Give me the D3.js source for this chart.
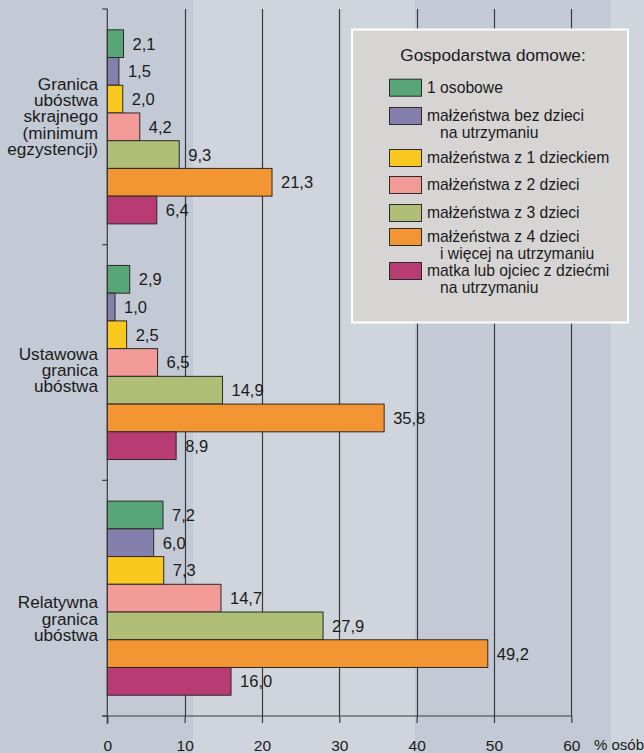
<!DOCTYPE html>
<html>
<head>
<meta charset="utf-8">
<script src="https://cdn.jsdelivr.net/npm/d3@7"></script>
<style>
  body { margin: 0; background: #d0d5dd; }
  svg text { font-family: "Liberation Sans", Arial, sans-serif; fill: #1a1a1a; }
</style>
</head>
<body>
<div id="chart"></div>
<script>
// data
var categories = [
  ["Granica", "ubóstwa", "skrajnego", "(minimum", "egzystencji)"],
  ["Ustawowa", "granica", "ubóstwa"],
  ["Relatywna", "granica", "ubóstwa"]
];
var seriesNames = [
  ["1 osobowe"],
  ["małżeństwa bez dzieci", "na utrzymaniu"],
  ["małżeństwa z 1 dzieckiem"],
  ["małżeństwa z 2 dzieci"],
  ["małżeństwa z 3 dzieci"],
  ["małżeństwa z 4 dzieci", "i więcej na utrzymaniu"],
  ["matka lub ojciec z dziećmi", "na utrzymaniu"]
];
var seriesColors = ["#58a677", "#8580ab", "#f9c81e", "#f29b96", "#afbd77", "#f39532", "#b83b74"];
var values = [
  [2.1, 1.5, 2.0, 4.2, 9.3, 21.3, 6.4],
  [2.9, 1.0, 2.5, 6.5, 14.9, 35.8, 8.9],
  [7.2, 6.0, 7.3, 14.7, 27.9, 49.2, 16.0]
];
var xTicks = [0, 10, 20, 30, 40, 50, 60];
var legendTitle = "Gospodarstwa domowe:";
var unitLabel = "% osób";

// layout
var W = 644, H = 753;
var x0 = 107.3, x60 = 571.3, yTop = 9, yBottom = 716;
var labelShift = [-10, 8, 21];
var legendRowY = [0, 28.3, 70.3, 97.3, 125.3, 149.3, 183.3];

var svg = d3.select("#chart").append("svg")
    .attr("width", W)
    .attr("height", H);

// background bands
[[0, 193, "#c3cad5"], [193, 415, "#d0d5dd"], [415, 611, "#c3cad5"], [611, W, "#d0d5dd"]]
  .forEach(function(b) {
    svg.append("rect").attr("x", b[0]).attr("y", 0)
      .attr("width", b[1] - b[0]).attr("height", H).attr("fill", b[2]);
  });

var x = d3.scaleLinear().domain([0, 60]).range([x0, x60]);
var y = d3.scaleBand().domain(d3.range(categories.length)).range([yTop, yBottom]);
var yInner = d3.scaleBand().domain(d3.range(seriesNames.length))
    .range([0, y.bandwidth()]).paddingInner(0).paddingOuter(0.75);

// grid lines
svg.append("g").selectAll("line")
  .data(xTicks.slice(1))
  .enter().append("line")
    .attr("x1", function(d) { return Math.round(x(d)) + 0.5; })
    .attr("x2", function(d) { return Math.round(x(d)) + 0.5; })
    .attr("y1", yTop).attr("y2", yBottom)
    .attr("stroke", "#3a3a3a").attr("stroke-width", 1.2);

// bars
var groups = svg.append("g").selectAll("g")
  .data(values)
  .enter().append("g")
    .attr("transform", function(d, i) { return "translate(0," + y(i) + ")"; });

groups.selectAll("rect")
  .data(function(d) { return d; })
  .enter().append("rect")
    .attr("x", x(0))
    .attr("y", function(d, j) { return yInner(j); })
    .attr("width", function(d) { return x(d) - x(0); })
    .attr("height", yInner.bandwidth())
    .attr("fill", function(d, j) { return seriesColors[j]; })
    .attr("stroke", "#2a2a2a").attr("stroke-width", 1);

groups.selectAll("text")
  .data(function(d) { return d; })
  .enter().append("text")
    .attr("x", function(d) { return x(d) + 9; })
    .attr("y", function(d, j) { return yInner(j) + yInner.bandwidth() / 2 + 6; })
    .style("font-size", "16.5px")
    .text(function(d) { return d.toFixed(1).replace(".", ","); });

// y axis
var yAxis = svg.append("g");
yAxis.append("line")
  .attr("x1", x0).attr("x2", x0).attr("y1", yTop).attr("y2", yBottom + 8)
  .attr("stroke", "#3a3a3a").attr("stroke-width", 1.2);
yAxis.selectAll("line.tick")
  .data(d3.range(categories.length + 1))
  .enter().append("line").attr("class", "tick")
    .attr("x1", x0 - 5).attr("x2", x0)
    .attr("y1", function(i) { return i < categories.length ? y(i) : yBottom; })
    .attr("y2", function(i) { return i < categories.length ? y(i) : yBottom; })
    .attr("stroke", "#3a3a3a").attr("stroke-width", 1.2);

// category labels
categories.forEach(function(lines, i) {
  var c = y(i) + y.bandwidth() / 2;
  var first = c - (lines.length - 1) * 16.4 / 2 + 5.5 + labelShift[i];
  var t = svg.append("text")
    .attr("text-anchor", "end")
    .style("font-size", "17.2px");
  lines.forEach(function(l, k) {
    t.append("tspan").attr("x", 98).attr("y", first + k * 16.4).text(l);
  });
});

// x axis
var xAxis = svg.append("g")
    .attr("transform", "translate(0," + yBottom + ")")
    .call(d3.axisBottom(x).tickValues(xTicks).tickSize(7).tickSizeOuter(0).tickPadding(17));
xAxis.select(".domain").remove();
xAxis.append("line")
  .attr("x1", x0 - 5).attr("x2", x60).attr("y1", 0).attr("y2", 0)
  .attr("stroke", "#3a3a3a").attr("stroke-width", 1.2);
xAxis.selectAll(".tick line").attr("stroke", "#3a3a3a").attr("stroke-width", 1.2);
xAxis.selectAll(".tick text")
  .attr("fill", "#1a1a1a")
  .style("font-family", "'Liberation Sans', Arial, sans-serif")
  .style("font-size", "15.5px");
svg.append("text")
  .attr("x", 594).attr("y", 750)
  .style("font-size", "15px")
  .text(unitLabel);

// legend
var legend = svg.append("g").attr("transform", "translate(352,29.5)");
legend.append("rect")
  .attr("width", 276).attr("height", 293)
  .attr("fill", "#d7d5d4").attr("stroke", "#ffffff").attr("stroke-width", 2);
legend.append("text")
  .attr("x", 141).attr("y", 31)
  .attr("text-anchor", "middle")
  .style("font-size", "17.2px")
  .text(legendTitle);

var items = legend.selectAll("g.item")
  .data(seriesNames)
  .enter().append("g").attr("class", "item")
    .attr("transform", function(d, i) { return "translate(0," + (63.2 + legendRowY[i]) + ")"; });
items.append("rect")
  .attr("x", 37.5).attr("y", -13.5)
  .attr("width", 32).attr("height", 17)
  .attr("fill", function(d, i) { return seriesColors[i]; })
  .attr("stroke", "#2a2a2a").attr("stroke-width", 1);
items.append("text")
  .style("font-size", "15.7px")
  .each(function(d) {
    var t = d3.select(this);
    d.forEach(function(l, k) {
      t.append("tspan").attr("x", k === 0 ? 75 : 88).attr("y", k * 16.6).text(l);
    });
  });
</script>
</body>
</html>
